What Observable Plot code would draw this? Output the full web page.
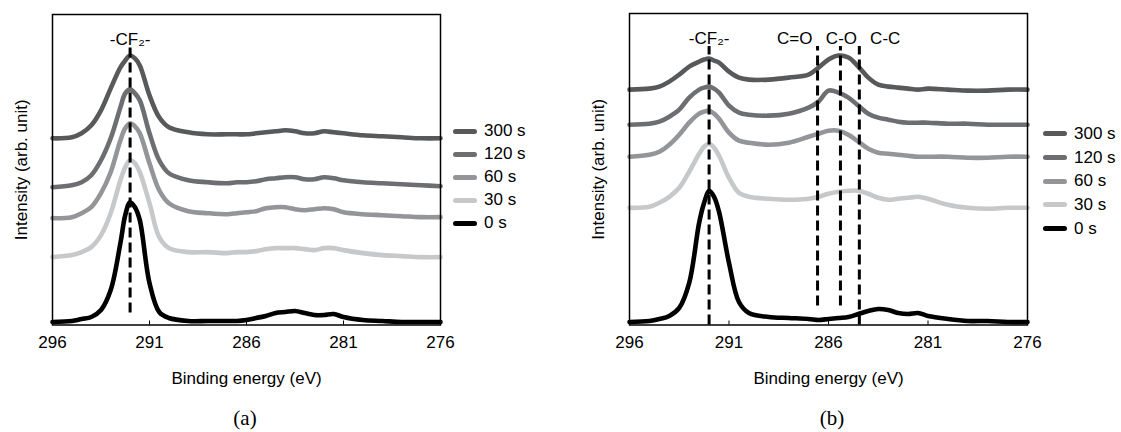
<!DOCTYPE html>
<html><head><meta charset="utf-8">
<script src="https://cdn.jsdelivr.net/npm/d3@7"></script>
<script src="https://cdn.jsdelivr.net/npm/@observablehq/plot@0.6"></script>
<style>
body{margin:0;background:#fff;font-family:"Liberation Sans",Arial,sans-serif;}
#root{position:relative;width:1121px;height:432px;overflow:hidden;background:#fff;}
.panel{position:absolute;top:0;}
.legend{position:absolute;font-size:17px;color:#000;}
.legend .row{display:flex;align-items:center;white-space:nowrap;}
.legend .sw{width:24px;height:5px;border-radius:3px;margin-right:7px;}
.cap{position:absolute;font-family:"Liberation Serif","Times New Roman",serif;font-size:21px;transform:translate(-50%,-50%);}
</style></head><body><div id="root"></div>
<script>
// Binding energy sample positions (eV)
const energies = [296,295,294.5,294,293.5,293,292.5,292.25,292,291.75,291.5,291,290.5,290,289,288,287,286.5,286,285.5,285,284.5,284,283.5,283,282.5,282,281.5,281,280,279,278,277,276];
const xTicks = [296,291,286,281,276];
const seriesNames = ["300 s","120 s","60 s","30 s","0 s"];
const seriesColors = ["#58595b","#6d6e71","#939598","#c7c8ca","#000000"];

// Panel (a) intensities (arb. unit, vertically offset traces)
const a300 = [187,188,192,200,215,237,258,265,270,267,260,230,208,198,193,191,191,191,191,192,193,194,195,194,192,192,194,193,192,190,189,188,187,187];
const a120 = [138,140,143,150,165,187,218,232,236,232,225,192,165,152,145,143,142,143,143,144,146,147,148,148,146,146,148,147,145,143,142,141,140,139];
const a60  = [107,108,112,118,132,153,185,197,202,199,192,162,135,122,114,112,111,112,113,114,117,118,118,116,115,116,117,116,113,111,110,109,108,108];
const a30  = [68,70,73,78,90,112,145,158,165,162,153,122,88,77,73,73,72,73,73,74,76,77,77,77,76,75,77,77,75,72,70,69,68,68];
const a0   = [3,4,6,8,15,35,82,110,123,118,105,42,13,7,4,4,4,4,5,7,9,12,13,14,12,10,10,11,8,5,4,3,3,3];

// Panel (b) intensities
const b300 = [235,236,238,243,250,258,263,265,266,264,262,253,247,245,245,247,250,257,265,269,267,258,247,240,238,237,236,235,236,235,234,234,235,235];
const b120 = [200,201,203,208,215,227,235,237,238,236,232,219,212,210,209,211,217,223,234,232,227,219,211,207,205,203,202,202,202,201,201,200,200,200];
const b60  = [168,170,173,180,190,202,211,213,214,211,206,192,184,182,180,182,188,191,194,194,190,183,176,172,171,170,169,168,168,168,167,167,168,168];
const b30  = [117,118,122,128,137,153,171,178,181,177,169,147,132,128,126,125,126,128,131,133,134,134,131,127,125,126,127,128,126,120,117,116,117,117];
const b0   = [3,4,6,9,17,42,102,122,134,128,113,62,23,12,8,7,6,5,6,7,8,11,14,16,15,12,11,12,9,6,4,4,3,3];

// Peak reference lines
const peakNamesA = ["-CF\u2082-"];
const peakEnergiesA = [292];
const peakNamesB = ["-CF\u2082-","C=O","C-O","C-C"];
const peakEnergiesB = [292,286.55,285.4,284.45];
const labelEnergiesB = [292,287.7,285.35,283.15];

function toRows(lists){
  const rows=[];
  lists.forEach((vals,k)=>vals.forEach((v,i)=>rows.push({E:energies[i],I:v,s:seriesNames[k]})));
  return rows;
}
const rowsA = toRows([a300,a120,a60,a30,a0]);
const rowsB = toRows([b300,b120,b60,b30,b0]);

const FONT = '"Liberation Sans", Arial, sans-serif';

function makePanel(rows, ruleData, labelData, ml, mr, mt){
  const H = 400, bottom = 324.5;
  return Plot.plot({
    width: 470, height: H,
    marginLeft: ml, marginRight: mr, marginTop: mt, marginBottom: H-bottom,
    x: {domain: [296,276]},
    y: {domain: [0,311], axis: null},
    color: {domain: seriesNames, range: seriesColors},
    style: {fontFamily: FONT, fontSize: "17px", color: "#000", background: "#fff", overflow: "visible"},
    marks: [
      Plot.line(rows, {x:"E", y:"I", z:"s", stroke:"s", strokeWidth:4.6, curve:"catmull-rom", strokeLinejoin:"round", strokeLinecap:"round"}),
      Plot.ruleX(ruleData, {x:"E", y1:"y1", y2:"y2", stroke:"#000", strokeWidth:3, strokeDasharray:"10,5"}),
      Plot.text(labelData, {x:"E", text:"t", frameAnchor:"top", dy:18, fontSize:17, fill:"#000"}),
      Plot.frame({stroke:"#000", strokeWidth:1.5}),
      Plot.axisX({ticks: xTicks, tickSize: 4, dy: -4, fill: "none", label: null, stroke:"#000"}),
      Plot.axisX({ticks: xTicks, tickSize: 0, tickPadding: 11, label: null, tickFormat: d => String(d), fontSize: 17}),
      Plot.text(["Binding energy (eV)"], {text: d => d, frameAnchor: "bottom", lineAnchor: "middle", textAnchor: "middle", dy: 54, fontSize: 17}),
      Plot.text(["Intensity (arb. unit)"], {text: d => d, frameAnchor: "left", textAnchor: "middle", lineAnchor: "middle", rotate: -90, dx: -31, fontSize: 17})
    ]
  });
}

const rulesA = peakEnergiesA.map(e => ({E:e, y1:12, y2:278}));
const labelsA = peakNamesA.map((t,i) => ({E:peakEnergiesA[i], t}));
const rulesB = peakEnergiesB.map((e,i) => ({E:e, y1:(i===1||i===2)?19:0, y2:278}));
const labelsB = peakNamesB.map((t,i) => ({E:labelEnergiesB[i], t}));

const root = document.getElementById("root");
function place(node, left){
  const d = document.createElement("div");
  d.className = "panel"; d.style.left = left + "px";
  d.appendChild(node); root.appendChild(d);
}
place(makePanel(rowsA, rulesA, labelsA, 52, 30, 14), 0);
place(makePanel(rowsB, rulesB, labelsB, 51, 21, 13), 578);

function legend(left, top, rowH){
  const L = document.createElement("div");
  L.className = "legend"; L.style.left = left + "px"; L.style.top = top + "px";
  seriesNames.forEach((n,i) => {
    const r = document.createElement("div"); r.className = "row"; r.style.height = rowH + "px";
    const s = document.createElement("span"); s.className = "sw"; s.style.background = seriesColors[i];
    const t = document.createElement("span"); t.textContent = n;
    r.appendChild(s); r.appendChild(t); L.appendChild(r);
  });
  root.appendChild(L);
}
legend(453, 119.5, 23);
legend(1043, 122, 23.7);

function caption(text, x, y){
  const c = document.createElement("div"); c.className = "cap";
  c.style.left = x + "px"; c.style.top = y + "px"; c.textContent = text;
  root.appendChild(c);
}
caption("(a)", 245, 418);
caption("(b)", 832, 418);
</script>
</body></html>
